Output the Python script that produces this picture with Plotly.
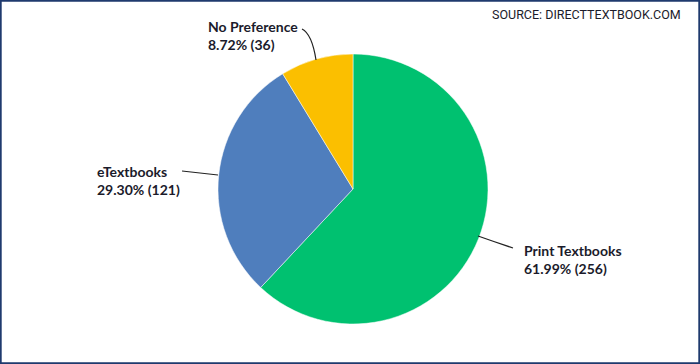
import plotly.graph_objects as go

labels = ["Print Textbooks", "eTextbooks", "No Preference"]
counts = [256, 121, 36]
percents = ["61.99%", "29.30%", "8.72%"]
colors = ["#00C170", "#4F7EBD", "#FBBF00"]

W, H = 700, 364

def px(x):
    return x / W

def py(y):
    return 1 - y / H

fig = go.Figure()
fig.add_trace(go.Pie(
    labels=labels, values=counts, sort=False, direction="clockwise", rotation=0,
    marker=dict(colors=colors, line=dict(color="white", width=0.5)),
    textinfo="none", hoverinfo="label+value+percent", showlegend=False,
    domain=dict(x=[px(218), px(488)], y=[py(324), py(54)]),
))

# label placement (pixels): (left x, center y)
label_pos = {"Print Textbooks": (522, 259), "eTextbooks": (95, 180), "No Preference": (206, 36)}
font = dict(family="Lato, Open Sans, sans-serif", size=14, color="#1b1b2b")
for lab, c, p in zip(labels, counts, percents):
    x, y = label_pos[lab]
    fig.add_annotation(x=px(x), y=py(y), xref="paper", yref="paper", showarrow=False,
                       text=f"<b>{lab}</b><br><b>{p} ({c})</b>", align="left",
                       xanchor="left", yanchor="middle", font=font)

# leader lines (curved)
paths = [
    [(513, 248), (495, 242), (478, 236)],
    [(182, 171), (200, 173), (218, 175)],
    [(302, 29), (312, 34), (316, 60)],
]
for (x0, y0), (cx, cy), (x1, y1) in paths:
    fig.add_shape(type="path", xref="paper", yref="paper",
                  path=f"M {px(x0)} {py(y0)} Q {px(cx)} {py(cy)} {px(x1)} {py(y1)}",
                  line=dict(color="#222222", width=1.2))

fig.add_annotation(x=px(683), y=py(15), xref="paper", yref="paper", showarrow=False,
                   text="SOURCE: DIRECTTEXTBOOK.COM", xanchor="right", yanchor="middle",
                   font=dict(family="Liberation Sans Narrow, Roboto, sans-serif", size=12.5, color="#1b1b2b"))

# frame border
fig.add_shape(type="rect", xref="paper", yref="paper", x0=0.001, y0=0.002, x1=0.999, y1=0.998,
              line=dict(color="#1F3A6E", width=2))

fig.update_layout(width=W, height=H, margin=dict(l=0, r=0, t=0, b=0),
                  paper_bgcolor="white", plot_bgcolor="white")
fig.write_html("out.html", config={"displayModeBar": False},
               post_script="document.body.style.margin='0';document.body.style.overflow='hidden';")
